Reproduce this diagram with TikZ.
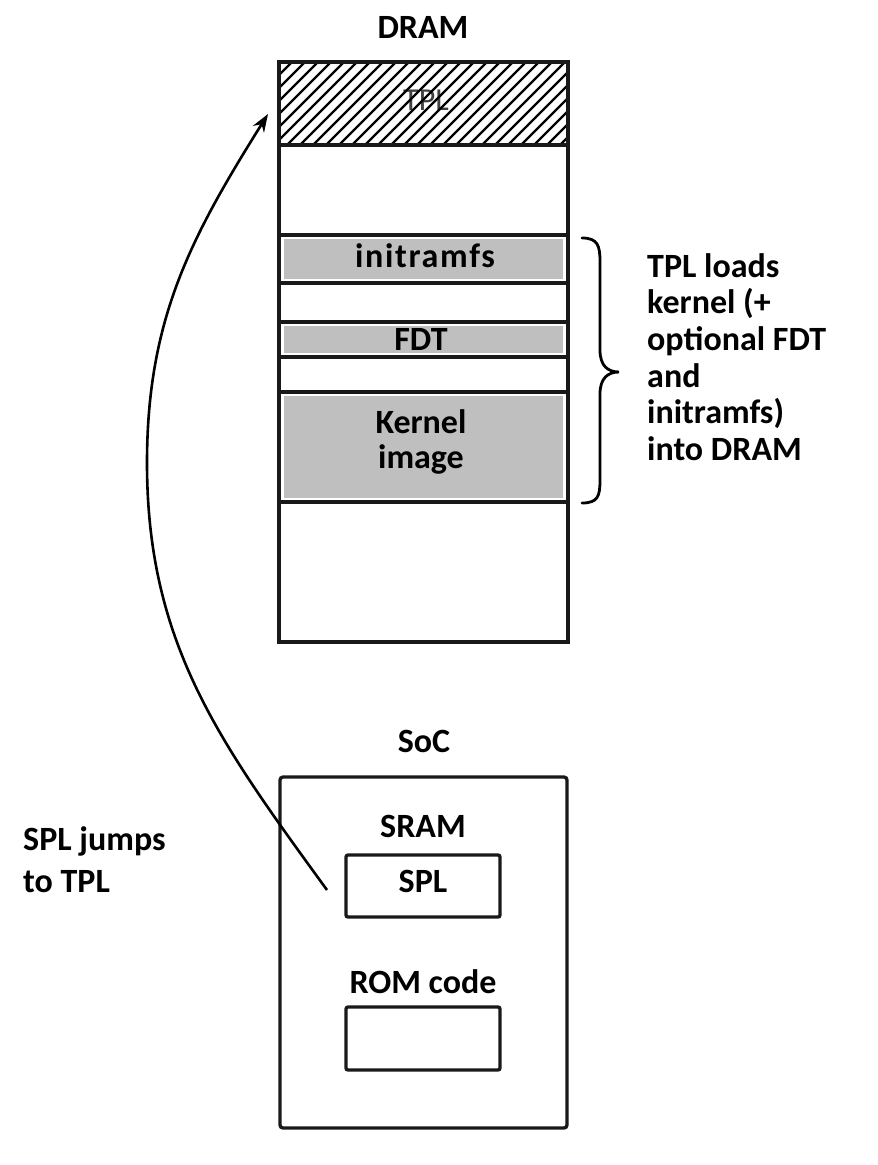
\documentclass[tikz,border=0pt]{standalone}
\usepackage{fontspec}
\setmainfont{Carlito}
\usetikzlibrary{arrows.meta}
\begin{document}
\begin{tikzpicture}[x=1pt,y=-1pt,
  box/.style={draw=black!90, line width=3.3pt},
  sep/.style={draw=black!90, line width=3.3pt},
  shade/.style={fill=black!25},
  lbl/.style={font=\fontsize{34}{40}\selectfont\bfseries, inner sep=0pt, anchor=base},
  jump/.style={line width=2.6pt, -{Stealth[length=18pt,width=13pt]}},
]
\useasboundingbox (0,0) rectangle (878,1165);
% ---------- DRAM ----------
\node[lbl] (dramlbl) at (423,38) {DRAM};
% hatched TPL region
\node[font=\fontsize{32}{34}\selectfont, text=black!75, inner sep=0pt] (tpl) at (426,100) {TPL};
\begin{scope}
  \clip (279,62) rectangle (568,145);
  \foreach \i in {0,...,30} {
    \draw[line width=2.4pt] (196+\i*13,145) -- ++(83,-83);
  }
\end{scope}
% shaded regions
\fill[shade] (284,239) rectangle (563,279);
\fill[shade] (284,326) rectangle (563,353);
\fill[shade] (284,396) rectangle (563,498);
% separators
\draw[sep] (279,145) -- (568,145);
\draw[sep] (279,235) -- (568,235);
\draw[sep] (279,283) -- (568,283);
\draw[sep] (279,322) -- (568,322);
\draw[sep] (279,357) -- (568,357);
\draw[sep] (279,392) -- (568,392);
\draw[sep] (279,502) -- (568,502);
\draw[box] (279,62) rectangle (568,642);
\node[lbl] (initramfs) at (425,267) {\addfontfeature{LetterSpace=5}initramfs};
\node[lbl] (fdt) at (421,350) {FDT};
\node[lbl, align=center, font=\fontsize{34}{35}\selectfont\bfseries] (kernel) at (421,468) {Kernel\\image};
% brace
\draw[line width=2.8pt, line cap=round] (582,238) .. controls (598,238) and (600,246) .. (600,262)
  -- (600,350) .. controls (600,366) and (608,372) .. (619,372)
  .. controls (608,372) and (600,378) .. (600,394)
  -- (600,480) .. controls (600,496) and (598,503) .. (582,503);
\node[lbl, anchor=base west, align=left, font=\fontsize{34}{36.7}\selectfont\bfseries] (loads) at (647,460.5)
  {TPL loads\\kernel (+\\optional FDT\\and\\initramfs)\\into DRAM};
% ---------- SoC ----------
\node[lbl] (soclbl) at (424,752) {SoC};
\draw[box, rounded corners=3pt] (280,777) rectangle (567,1128);
\node[lbl] (sram) at (423,837) {SRAM};
\draw[box, rounded corners=2pt] (346,855) rectangle (500,917);
\node[lbl] (spl) at (423,892) {SPL};
\node[lbl] (rom) at (423,993) {ROM code};
\draw[box, rounded corners=2pt] (346,1007) rectangle (500,1070);
\node[lbl, anchor=base west, align=left, font=\fontsize{34}{42}\selectfont\bfseries] (jumps) at (23,892)
  {SPL jumps\\to TPL};
% ---------- jump arrow ----------
\coordinate (jstart) at (327,890);
\coordinate (jmid) at (147,463);
\coordinate (jend) at (268,114);
\draw[jump] (jstart) to[out=126,in=-90] (jmid) to[out=90,in=238] (jend);
\end{tikzpicture}
\end{document}
